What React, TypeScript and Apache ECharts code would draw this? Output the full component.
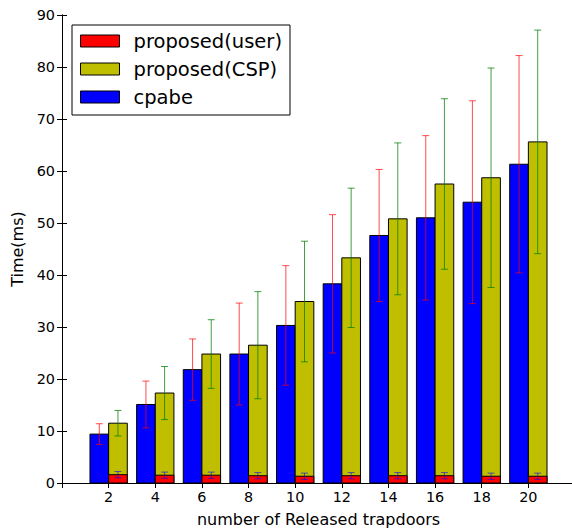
import React, { useEffect, useRef } from "react";
import * as echarts from "echarts";

const xValues = [2, 4, 6, 8, 10, 12, 14, 16, 18, 20];
const cpabe = [9.4, 15.1, 21.8, 24.8, 30.3, 38.3, 47.6, 51.0, 54.0, 61.3];
const cpabeErr = [2.0, 4.5, 5.9, 9.8, 11.5, 13.3, 12.7, 15.8, 19.5, 20.9];
const csp = [11.5, 17.3, 24.8, 26.5, 34.9, 43.3, 50.8, 57.5, 58.7, 65.6];
const cspErr = [2.45, 5.1, 6.6, 10.3, 11.6, 13.4, 14.6, 16.4, 21.1, 21.5];
const user = [1.6, 1.5, 1.5, 1.4, 1.3, 1.4, 1.4, 1.4, 1.3, 1.3];
const userErr = [0.6, 0.6, 0.6, 0.6, 0.6, 0.6, 0.6, 0.6, 0.6, 0.6];
const seriesNames = ["proposed(user)", "proposed(CSP)", "cpabe"];

const BAR_W = 0.8;
const FONT = "DejaVu Sans";
const COLORS = { user: "#ff0000", csp: "#bfbf00", cpabe: "#0000ff" };

function barSeries(name: string, vals: number[], offset: number, color: string, z: number) {
  return {
    type: "custom",
    name,
    z,
    itemStyle: { color, borderColor: "#000", borderWidth: 1 },
    data: xValues.map((x, i) => [x, vals[i]]),
    renderItem: (_p: any, api: any) => {
      const x = api.value(0);
      const v = api.value(1);
      const a = api.coord([x + offset, v]);
      const b = api.coord([x + offset + BAR_W, 0]);
      return {
        type: "rect",
        shape: { x: a[0], y: a[1], width: b[0] - a[0], height: b[1] - a[1] },
        style: { fill: color, stroke: "#000", lineWidth: 1 },
      };
    },
  };
}

function errSeries(name: string, vals: number[], errs: number[], offset: number, color: string, z: number) {
  return {
    type: "custom",
    name: name + "-err",
    z,
    data: xValues.map((x, i) => [x, vals[i], errs[i]]),
    renderItem: (_p: any, api: any) => {
      const x = api.value(0) + offset + BAR_W / 2;
      const v = api.value(1);
      const e = api.value(2);
      const top = api.coord([x, v + e]);
      const bot = api.coord([x, v - e]);
      const cw = 3.5;
      const st = { stroke: color, lineWidth: 1, fill: "none" };
      return {
        type: "group",
        children: [
          { type: "line", shape: { x1: top[0], y1: top[1], x2: bot[0], y2: bot[1] }, style: st },
          { type: "line", shape: { x1: top[0] - cw, y1: top[1], x2: top[0] + cw, y2: top[1] }, style: st },
          { type: "line", shape: { x1: bot[0] - cw, y1: bot[1], x2: bot[0] + cw, y2: bot[1] }, style: st },
        ],
      };
    },
  };
}

export default function App() {
  const ref = useRef<HTMLDivElement>(null);
  useEffect(() => {
    if (!ref.current) return;
    const chart = echarts.init(ref.current, undefined, { renderer: "svg" });
    const axisLine = { show: true, lineStyle: { color: "#000", width: 1 } };
    const tick = { show: true, inside: true, length: 5, lineStyle: { color: "#000", width: 1 } };
    chart.setOption({
      animation: false,
      backgroundColor: "#fff",
      textStyle: { fontFamily: FONT },
      grid: { left: 62, top: 15, right: -3, bottom: 48, containLabel: false, outerBoundsMode: "none" },
      legend: {
        left: 72,
        top: 25,
        orient: "vertical",
        icon: "rect",
        itemWidth: 39,
        itemHeight: 12,
        itemGap: 8,
        padding: [6, 8, 8, 8],
        backgroundColor: "#fff",
        borderColor: "#000",
        borderWidth: 1,
        borderRadius: 0,
        textStyle: { fontFamily: FONT, fontSize: 19.5, color: "#000", lineHeight: 20, padding: [0, 0, 0, 9] },
        data: [
          { name: seriesNames[0], itemStyle: { color: COLORS.user, borderColor: "#000", borderWidth: 1 } },
          { name: seriesNames[1], itemStyle: { color: COLORS.csp, borderColor: "#000", borderWidth: 1 } },
          { name: seriesNames[2], itemStyle: { color: COLORS.cpabe, borderColor: "#000", borderWidth: 1 } },
        ],
        z: 20,
      },
      xAxis: [
        {
          type: "value",
          position: "bottom",
          min: 0,
          max: 22,
          interval: 2,
          axisLine,
          axisTick: tick,
          splitLine: { show: false },
          axisLabel: {
            fontFamily: FONT,
            fontSize: 14.4,
            color: "#000",
            margin: 7,
            formatter: (v: number) => (v === 0 || v === 22 ? "" : String(v)),
          },
          name: "number of Released trapdoors",
          nameLocation: "middle",
          nameGap: 28,
          nameTextStyle: { fontFamily: FONT, fontSize: 16, color: "#000" },
        },
        {
          type: "value",
          position: "top",
          min: 0,
          max: 22,
          interval: 2,
          axisLine,
          axisTick: tick,
          splitLine: { show: false },
          axisLabel: { show: false },
        },
      ],
      yAxis: [
        {
          type: "value",
          position: "left",
          min: 0,
          max: 90,
          interval: 10,
          axisLine,
          axisTick: tick,
          splitLine: { show: false },
          axisLabel: { fontFamily: FONT, fontSize: 14.4, color: "#000", margin: 7 },
          name: "Time(ms)",
          nameLocation: "middle",
          nameGap: 37,
          nameTextStyle: { fontFamily: FONT, fontSize: 16, color: "#000" },
        },
        {
          type: "value",
          position: "right",
          min: 0,
          max: 90,
          interval: 10,
          axisLine,
          axisTick: tick,
          splitLine: { show: false },
          axisLabel: { show: false },
        },
      ],
      series: [
        barSeries(seriesNames[2], cpabe, -BAR_W, COLORS.cpabe, 2),
        errSeries(seriesNames[2], cpabe, cpabeErr, -BAR_W, "rgba(255,0,0,0.7)", 3),
        barSeries(seriesNames[1], csp, 0, COLORS.csp, 4),
        errSeries(seriesNames[1], csp, cspErr, 0, "rgba(0,128,0,0.75)", 5),
        barSeries(seriesNames[0], user, 0, COLORS.user, 6),
        errSeries(seriesNames[0], user, userErr, 0, "rgba(0,0,255,0.6)", 7),
      ],
    });
    return () => chart.dispose();
  }, []);
  return (
    <div
      ref={ref}
      style={{ width: 572, height: 531, position: "fixed", left: 0, top: 0 }}
    />
  );
}
